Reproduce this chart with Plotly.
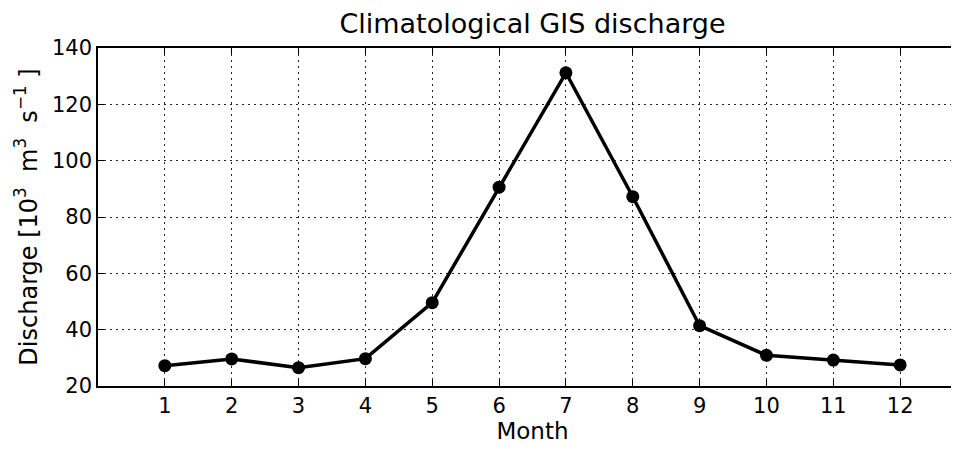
import plotly.graph_objects as go

months = [1, 2, 3, 4, 5, 6, 7, 8, 9, 10, 11, 12]
discharge = [27.2, 29.6, 26.5, 29.7, 49.6, 90.6, 131.2, 87.2, 41.4, 30.9, 29.2, 27.5]
x_ticks = [1, 2, 3, 4, 5, 6, 7, 8, 9, 10, 11, 12]
y_ticks = [20, 40, 60, 80, 100, 120, 140]

fig = go.Figure()
fig.add_trace(go.Scatter(
    x=months, y=discharge, mode="lines+markers",
    line=dict(color="black", width=3.5),
    marker=dict(color="black", size=13),
    showlegend=False,
))

font = "DejaVu Sans, sans-serif"
grid_dash = "1.5px,4.5px"
fig.update_layout(
    width=959, height=450,
    margin=dict(l=90, r=0, t=40, b=72),
    paper_bgcolor="white", plot_bgcolor="white",
    font=dict(family=font, size=21, color="black"),
    title=dict(text="Climatological GIS discharge", x=0.5, xanchor="center",
               xref="paper", y=1 - 16 / 450, yanchor="middle",
               font=dict(size=27, family=font, color="black")),
    xaxis=dict(
        range=[0, 13], tickvals=x_ticks, ticktext=[str(v) for v in x_ticks],
        showline=True, linecolor="black", linewidth=1.5, mirror="ticks",
        ticks="inside", ticklen=6, tickcolor="black", tickwidth=1,
        showgrid=True, gridcolor="#222222", griddash=grid_dash, gridwidth=1,
        zeroline=False,
        title=dict(text="Month", font=dict(size=23), standoff=6),
        tickfont=dict(size=21),
    ),
    yaxis=dict(
        range=[20, 140], tickvals=y_ticks,
        showline=True, linecolor="black", linewidth=1.5, mirror=False,
        ticks="inside", ticklen=6, tickcolor="black", tickwidth=1,
        showgrid=True, gridcolor="#222222", griddash=grid_dash, gridwidth=1,
        zeroline=False,
        title=dict(text="Discharge [10<sup>3</sup>&nbsp; m<sup>3</sup>&nbsp; s<sup>\u22121</sup> ]",
                   font=dict(size=24), standoff=8),
        tickfont=dict(size=21),
    ),
)

fig.write_html("out.html")
